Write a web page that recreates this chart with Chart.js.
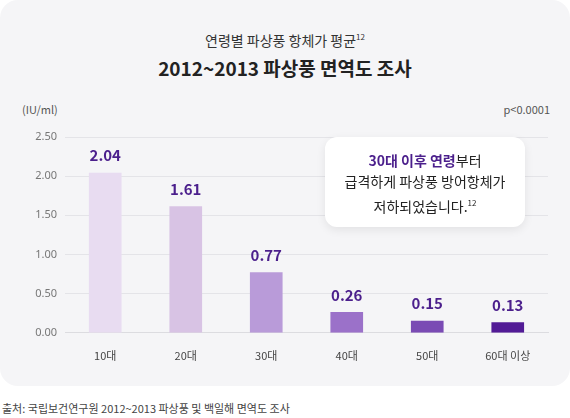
<!DOCTYPE html>
<html><head><meta charset="utf-8">
<script src="https://cdn.jsdelivr.net/npm/chart.js@4"></script>
<style>
body{margin:0;width:570px;height:418px;background:#fff;font-family:"Noto Sans CJK KR","Noto Sans",sans-serif;position:relative;overflow:hidden}
#card{position:absolute;left:0;top:0;width:570px;height:386px;background:#f5f5f7;border-radius:18px}
.t{position:absolute;left:0;width:570px;text-align:center}
#t1{top:30px;font-size:14px;color:#333}
#t2{top:54px;font-size:19px;font-weight:bold;color:#222}
sup{font-size:8px}
#unit{position:absolute;left:22px;top:101px;font-size:11px;color:#555}
#p{position:absolute;right:20px;top:101px;font-size:11px;color:#555}
#box{position:absolute;left:325px;top:137px;width:200px;height:90px;background:#fff;border-radius:12px;box-shadow:0 3px 10px rgba(0,0,0,0.08);text-align:center;font-size:14px;line-height:21px;color:#222;box-sizing:border-box;padding-top:13px}
#box b{color:#4b1f8c}
#src{position:absolute;left:2px;top:400px;font-size:11px;color:#444}
canvas{position:absolute;left:0;top:0}
</style></head><body>
<div id="card"></div>
<div class="t" id="t1">연령별 파상풍 항체가 평균<sup>12</sup></div>
<div class="t" id="t2">2012~2013 파상풍 면역도 조사</div>
<div id="unit">(IU/ml)</div>
<div id="p">p&lt;0.0001</div>
<div style="position:absolute;left:0;top:0;width:570px;height:376px"><canvas id="c"></canvas></div>
<div id="box"><b>30대 이후 연령</b>부터<br>급격하게 파상풍 방어항체가<br>저하되었습니다.<sup>12</sup></div>
<div id="src">출처: 국립보건연구원 2012~2013 파상풍 및 백일해 면역도 조사</div>
<script>
const categories=["10대","20대","30대","40대","50대","60대 이상"];
const values=[2.04,1.61,0.77,0.26,0.15,0.13];
const yTicks=[0,0.5,1,1.5,2,2.5];
const colors=["#e8dcf1","#d8c3e4","#b99bd9","#9b71c9","#7a4bb4","#521b96"];
const labelPlugin={id:"lbl",afterDatasetsDraw(ch){const ctx=ch.ctx;ctx.save();ctx.font="bold 15px 'Noto Sans CJK KR', sans-serif";ctx.fillStyle="#4b1f8c";ctx.textAlign="center";ctx.textBaseline="bottom";
ch.getDatasetMeta(0).data.forEach((b,i)=>{ctx.fillText(values[i].toFixed(2),b.x,b.y-10);});ctx.restore();}};
new Chart(document.getElementById("c"),{type:"bar",
data:{labels:categories,datasets:[{data:values,backgroundColor:colors,barThickness:32}]},
options:{responsive:true,maintainAspectRatio:false,animation:false,
layout:{padding:{top:137,left:8,right:22,bottom:6}},
plugins:{legend:{display:false},tooltip:{enabled:false}},
scales:{y:{min:0,max:2.5,afterFit(s){s.width=57},afterBuildTicks(s){s.ticks=yTicks.map(v=>({value:v}))},
ticks:{callback:v=>v.toFixed(2),color:"#777",font:{size:11,family:"Noto Sans"},padding:8},
grid:{color:"#e4e4e8",drawTicks:false},border:{display:false}},
x:{grid:{display:false},border:{color:"#dcdce0"},ticks:{color:"#444",font:{size:11,family:"Noto Sans CJK KR"},padding:8}}}},
plugins:[labelPlugin]});
</script></body></html>
